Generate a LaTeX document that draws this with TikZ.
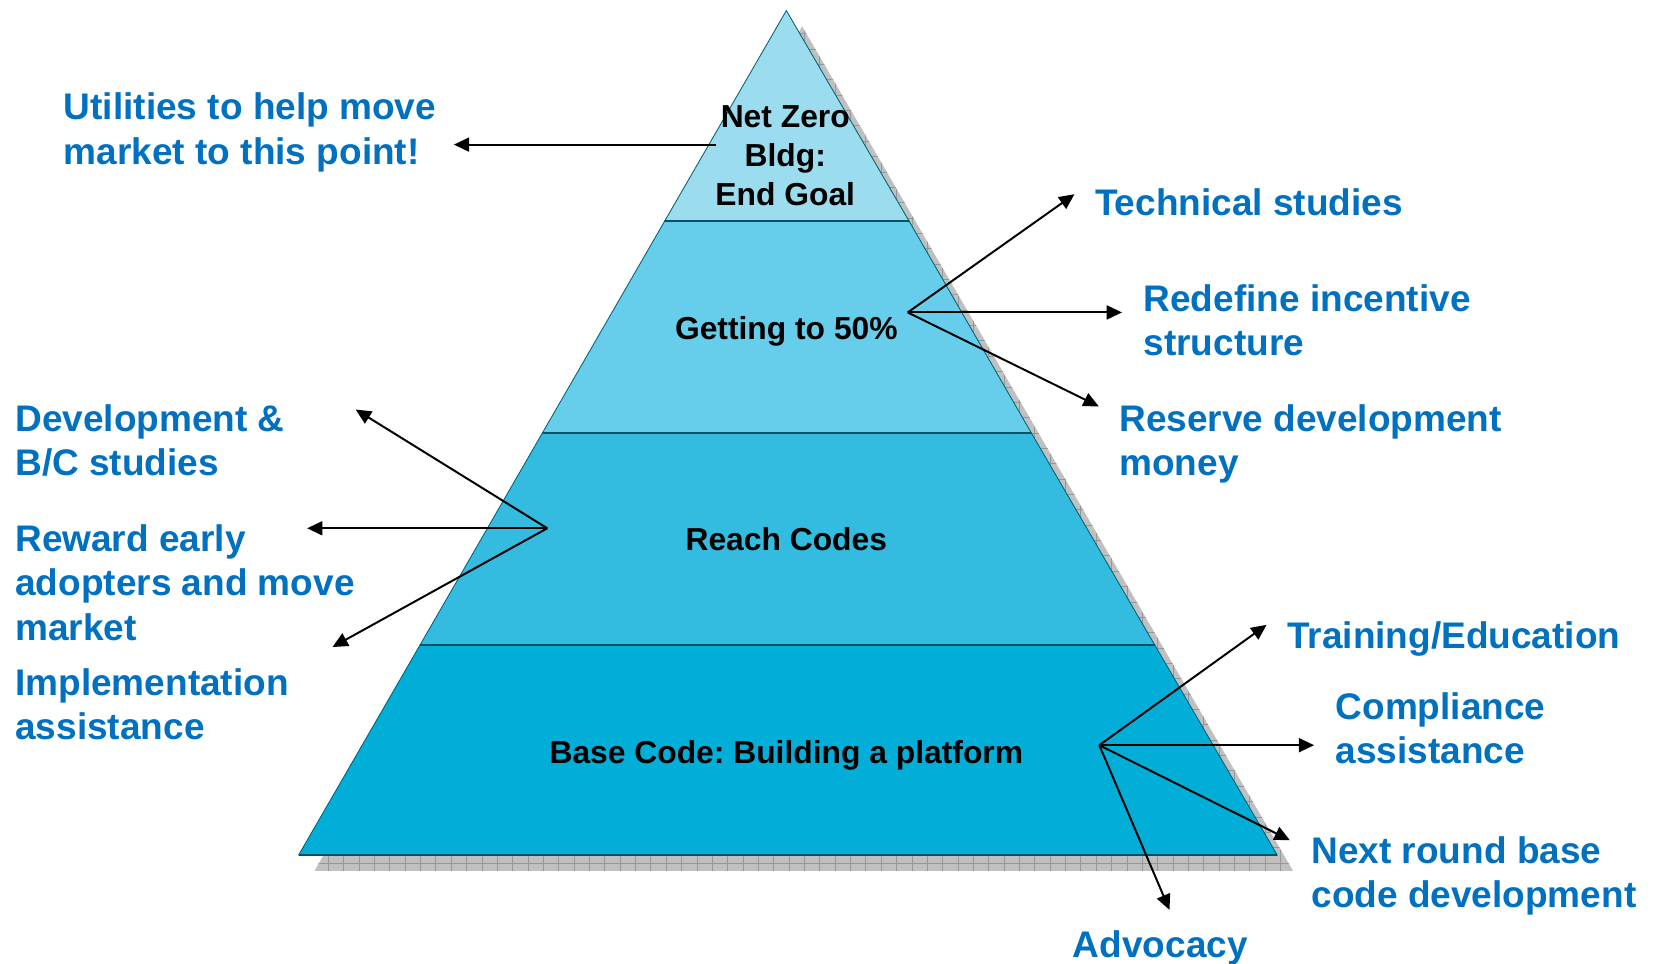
\documentclass[tikz,border=0pt]{standalone}
\usepackage{fontspec}
\setmainfont{Liberation Sans}
\usetikzlibrary{arrows.meta}
\frenchspacing

\definecolor{tierone}{RGB}{155,221,238}
\definecolor{tiertwo}{RGB}{102,206,234}
\definecolor{tierthree}{RGB}{51,187,224}
\definecolor{tierfour}{RGB}{0,174,216}
\definecolor{tieredge}{RGB}{0,96,118}
\definecolor{tierline}{RGB}{0,82,102}
\definecolor{shadefill}{RGB}{192,192,192}
\definecolor{shadegrid}{RGB}{150,150,150}
\definecolor{notecolor}{RGB}{0,112,192}

\tikzset{every picture/.style={line width=0.75pt}}
\tikzset{
  note/.style={anchor=west, inner sep=0pt, align=left, text=notecolor,
    font=\fontsize{26.3}{31.5}\selectfont\bfseries},
  tierlabel/.style={inner sep=0pt, align=center,
    font=\fontsize{22.6}{27.4}\selectfont\bfseries},
  pointer/.style={draw=black, line width=1.4pt, -{Triangle[length=10.9pt,width=10pt]}},
  tier/.style={draw=tieredge, line width=0.6pt},
  tiersep/.style={draw=tierline, line width=1.5pt}
}

\begin{document}
\begin{tikzpicture}[x=0.75pt,y=0.75pt,yscale=-1,xscale=1]
\useasboundingbox (0,0) rectangle (1568,913.3);

%Shape: Shadow [grid texture]
\begin{scope}[shift={(15,15)}]
\fill [shadefill] (745,10) -- (1210,810) -- (283,810) -- cycle;
\clip (745,10) -- (1210,810) -- (283,810) -- cycle;
\foreach \k in {0,...,66} \draw [shadegrid, line width=0.5pt] ({281.5+14.55*\k},0) -- ++(0,830);
\foreach \k in {0,...,57} \draw [shadegrid, line width=0.5pt] (0,{802.6-14.55*\k}) -- ++(1300,0);
\end{scope}

%Shape: Tiers
\draw [tier, fill=tierone] (745,10) -- (861,209) -- (630,209) -- cycle;
\draw [tier, fill=tiertwo] (630,209) -- (861,209) -- (977,410) -- (514,410) -- cycle;
\draw [tier, fill=tierthree] (514,410) -- (977,410) -- (1094,611) -- (398,611) -- cycle;
\draw [tier, fill=tierfour] (398,611) -- (1094,611) -- (1210,810) -- (283,810) -- cycle;
%Straight Lines [tier separators]
\draw [tiersep] (630,209) -- (861,209);
\draw [tiersep] (514,410) -- (977,410);
\draw [tiersep] (398,611) -- (1094,611);
\draw [tiersep] (283,810) -- (1210,810);

% Text Node
\node (netzero) at (744,147.5) [tierlabel] {Net Zero\\Bldg:\\End Goal};
% Text Node
\node (fifty) at (745,314) [tierlabel] {Getting to 50\%};
% Text Node
\node (reach) at (745,511) [tierlabel] {Reach Codes};
% Text Node
\node (basecode) at (745,716) [tierlabel] {Base Code: Building a platform};

% Text Node
\node (utilities) at (60,125.5) [note] {Utilities to help move\\market to this point!};
% Text Node
\node (technical) at (1037,192) [note] {Technical studies};
% Text Node
\node (incentive) at (1083,303.5) [note] {Redefine incentive\\structure};
% Text Node
\node (reserve) at (1060,420.5) [note] {Reserve development\\money};
% Text Node
\node (bcstudies) at (14,417.5) [note] {Development \&\\B/C studies};
% Text Node
\node (reward) at (14,552) [note] {Reward early\\adopters and move\\market};
% Text Node
\node (implement) at (14,667.5) [note] {Implementation\\assistance};
% Text Node
\node (training) at (1219,605) [note] {Training/Education};
% Text Node
\node (compliance) at (1265,690) [note] {Compliance\\assistance};
% Text Node
\node (nextround) at (1242,830) [note] {Next round base\\code development};
% Text Node
\node (advocacy) at (1016,898) [note] {Advocacy};

%Hubs and arrow ends
\coordinate (goalhub) at (678,137);
\coordinate (goaltip) at (430,137);
\coordinate (fiftyhub) at (860,296);
\coordinate (techtip) at (1018,184);
\coordinate (incentip) at (1063,296);
\coordinate (reservetip) at (1041,385);
\coordinate (reachhub) at (518.5,500.5);
\coordinate (bctip) at (337,388);
\coordinate (rewardtip) at (291,500.5);
\coordinate (impltip) at (315,613);
\coordinate (basehub) at (1041.5,706);
\coordinate (traintip) at (1200,592);
\coordinate (compltip) at (1245,706);
\coordinate (nexttip) at (1222,796);
\coordinate (advotip) at (1108,862);

%Straight Lines
\draw [pointer] (goalhub) -- (goaltip);
\draw [pointer] (fiftyhub) -- (techtip);
\draw [pointer] (fiftyhub) -- (incentip);
\draw [pointer] (fiftyhub) -- (reservetip);
\draw [pointer] (reachhub) -- (bctip);
\draw [pointer] (reachhub) -- (rewardtip);
\draw [pointer] (reachhub) -- (impltip);
\draw [pointer] (basehub) -- (traintip);
\draw [pointer] (basehub) -- (compltip);
\draw [pointer] (basehub) -- (nexttip);
\draw [pointer] (basehub) -- (advotip);

\end{tikzpicture}
\end{document}
